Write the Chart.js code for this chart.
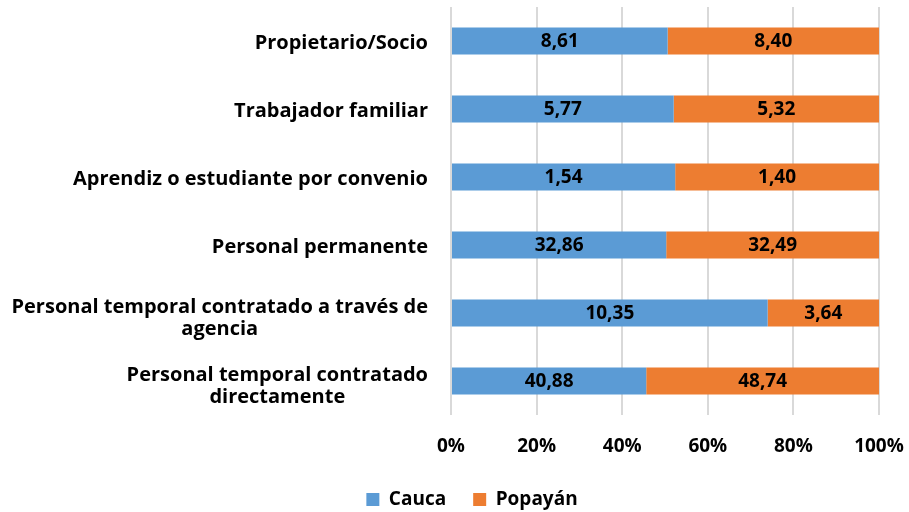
<!DOCTYPE html>
<html>
<head>
<meta charset="utf-8">
<script src="https://cdn.jsdelivr.net/npm/chart.js@4.4.1/dist/chart.umd.min.js"></script>
<style>
  html, body { margin: 0; padding: 0; background: #fff; }
  #wrap { width: 909px; height: 512px; }
</style>
</head>
<body>
<div id="wrap"><canvas id="chart" width="909" height="512"></canvas></div>
<script>
const categories = [
  "Propietario/Socio",
  "Trabajador familiar",
  "Aprendiz o estudiante por convenio",
  "Personal permanente",
  ["Personal temporal contratado a través de", "agencia"],
  ["Personal temporal contratado", "directamente"]
];
const cauca = [8.61, 5.77, 1.54, 32.86, 10.35, 40.88];
const popayan = [8.40, 5.32, 1.40, 32.49, 3.64, 48.74];
const xTicks = [0, 20, 40, 60, 80, 100];

// 100% stacked: share of each row
const pct = (a, b) => a.map((v, i) => v / (v + b[i]) * 100);
const caucaPct = pct(cauca, popayan);
const popayanPct = pct(popayan, cauca);
const rawValues = [cauca, popayan];

const FONT = "'Open Sans', sans-serif";

// raw value in the middle of each bar segment
const barLabels = {
  id: "barLabels",
  afterDatasetsDraw(chart) {
    const ctx = chart.ctx;
    ctx.save();
    ctx.font = "bold 19px " + FONT;
    ctx.fillStyle = "#000";
    ctx.textAlign = "center";
    ctx.textBaseline = "middle";
    chart.data.datasets.forEach((ds, di) => {
      chart.getDatasetMeta(di).data.forEach((bar, i) => {
        const c = bar.getCenterPoint();
        ctx.fillText(rawValues[di][i].toFixed(2).replace(".", ","), c.x, c.y + 1);
      });
    });
    ctx.restore();
  }
};

// category labels: block right-aligned to the axis, wrapped lines centred
const catLabels = {
  id: "catLabels",
  afterDraw(chart) {
    const ctx = chart.ctx;
    const y = chart.scales.y;
    const right = chart.chartArea.left - 23;
    const lh = 22;
    ctx.save();
    ctx.font = "bold 20px " + FONT;
    ctx.fillStyle = "#000";
    ctx.textAlign = "center";
    ctx.textBaseline = "middle";
    categories.forEach((lab, i) => {
      const lines = Array.isArray(lab) ? lab : [lab];
      const w = Math.max(...lines.map(l => ctx.measureText(l).width));
      const cx = right - w / 2;
      const cy = y.getPixelForValue(i) + (lines.length > 1 ? 5 : 2);
      const y0 = cy - (lines.length - 1) * lh / 2;
      lines.forEach((l, k) => ctx.fillText(l, cx, y0 + k * lh));
    });
    ctx.restore();
  }
};

new Chart(document.getElementById("chart"), {
  type: "bar",
  data: {
    labels: categories,
    datasets: [
      { label: "Cauca", data: caucaPct, backgroundColor: "#5b9bd5" },
      { label: "Popayán", data: popayanPct, backgroundColor: "#ed7d31" }
    ]
  },
  options: {
    indexAxis: "y",
    responsive: false,
    animation: false,
    layout: { padding: { top: 7, right: 30, bottom: -7, left: 65 } },
    datasets: { bar: { categoryPercentage: 1, barPercentage: 0.4 } },
    scales: {
      x: {
        stacked: true,
        min: 0,
        max: 100,
        afterBuildTicks: (s) => { s.ticks = xTicks.map(v => ({ value: v })); },
        afterFit: (s) => { s.height = 48; s.paddingLeft = 0; s.paddingRight = 0; },
        grid: { color: "#d9d9d9", lineWidth: 2, tickLength: 0 },
        border: { display: false },
        ticks: {
          color: "#000",
          padding: 20,
          maxRotation: 0,
          font: { family: FONT, size: 19, weight: "bold" },
          callback: (v) => v + "%"
        }
      },
      y: {
        stacked: true,
        grid: { display: false },
        border: { display: false },
        afterFit: (s) => { s.width = 386; s.paddingTop = 0; s.paddingBottom = 0; },
        ticks: { display: false }
      }
    },
    plugins: {
      tooltip: { enabled: false },
      legend: {
        position: "bottom",
        labels: {
          color: "#000",
          boxWidth: 13,
          boxHeight: 13,
          padding: 27,
          font: { family: FONT, size: 19, weight: "bold" }
        }
      }
    }
  },
  plugins: [barLabels, catLabels]
});
</script>
</body>
</html>
